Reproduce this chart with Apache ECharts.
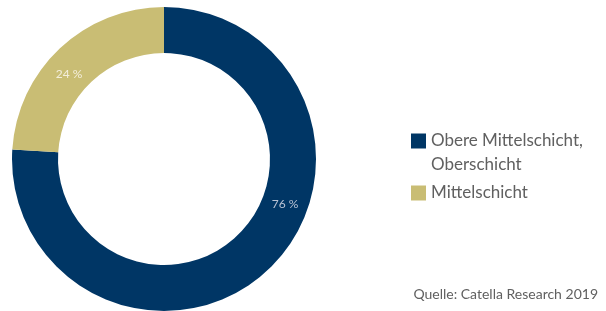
<!DOCTYPE html>
<html>
<head>
<meta charset="utf-8">
<script src="https://cdn.jsdelivr.net/npm/echarts@6/dist/echarts.min.js"></script>
<style>
  html, body { margin: 0; padding: 0; background: #fff; }
  #chart { width: 606px; height: 311px; }
</style>
</head>
<body>
<div id="chart"></div>
<script>
// Daten
const categories = ['Obere Mittelschicht,\nOberschicht', 'Mittelschicht'];
const shares = [76, 24];
const colors = ['#003665', '#c9bd74'];
const labelColors = ['#b9c3d4', '#f3eedb'];
const sourceText = 'Quelle: Catella Research 2019';

// Label-Positionen (Pixel)
const labelPos = [[285, 204], [69, 74]];

const chart = echarts.init(document.getElementById('chart'), null, { renderer: 'canvas' });

const option = {
  animation: false,
  textStyle: { fontFamily: 'Lato' },
  legend: {
    orient: 'vertical',
    left: 411,
    top: 105,
    padding: 0,
    itemGap: 4,
    itemWidth: 15,
    itemHeight: 15,
    icon: 'rect',
    selectedMode: false,
    textStyle: { fontSize: 17, color: '#606060', lineHeight: 24 },
    // leere erste Zeile, damit die erste Textzeile auf Höhe des Symbols liegt
    formatter: name => (name.indexOf('\n') >= 0 ? '\n' + name : name),
    data: categories
  },
  graphic: [{
    type: 'text',
    right: 8,
    top: 287,
    style: { text: sourceText, fontSize: 14, fill: '#606060', fontFamily: 'Lato' }
  }],
  series: [{
    type: 'pie',
    center: [164, 159],
    radius: [106, 152],
    startAngle: 90,
    clockwise: true,
    avoidLabelOverlap: false,
    emphasis: { disabled: true },
    label: {
      show: true,
      position: 'inside',
      fontSize: 12,
      formatter: p => p.value + ' %'
    },
    labelLine: { show: false },
    labelLayout: p => ({ x: labelPos[p.dataIndex][0], y: labelPos[p.dataIndex][1], align: 'center', verticalAlign: 'middle' }),
    data: categories.map((name, i) => ({
      name: name,
      value: shares[i],
      itemStyle: { color: colors[i] },
      label: { color: labelColors[i] }
    }))
  }]
};

chart.setOption(option);
</script>
</body>
</html>
